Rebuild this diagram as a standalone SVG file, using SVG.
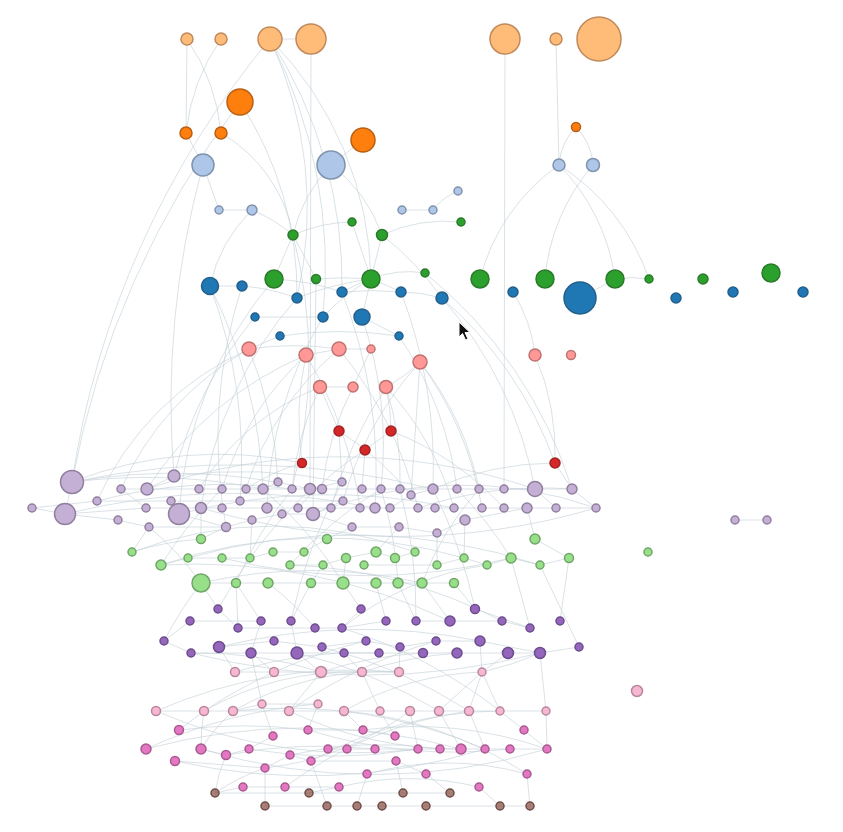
<svg xmlns="http://www.w3.org/2000/svg" width="843" height="832" viewBox="0 0 843 832">
<style>
.links path{fill:none;stroke:#c2cfd6;stroke-opacity:.6;stroke-width:1}
circle{stroke-width:1.5}
.c0 circle{fill:#ffbb78;stroke:#c08a5a}
.c1 circle{fill:#ff7f0e;stroke:#b85f12}
.c2 circle{fill:#aec7e8;stroke:#7f93ad}
.c3 circle{fill:#2ca02c;stroke:#2a7a2a}
.c4 circle{fill:#1f77b4;stroke:#235f8a}
.c5 circle{fill:#ff9896;stroke:#c07270}
.c6 circle{fill:#d62728;stroke:#a32224}
.c7 circle{fill:#c5b0d5;stroke:#917f9f}
.c8 circle{fill:#98df8a;stroke:#6fa666}
.c9 circle{fill:#9467bd;stroke:#6e4c8e}
.c10 circle{fill:#f7b6d2;stroke:#b8879c}
.c11 circle{fill:#e377c2;stroke:#a95990}
.c12 circle{fill:#8c564b;stroke:#6d4d47;fill-opacity:.75}
</style>
<rect width="843" height="832" fill="#ffffff"/>
<g class="links" id="links">
<path d="M187 39L186 133"/><path d="M187 39A200 200 0 0 1 221 133"/><path d="M221 39A200 200 0 0 0 186 133"/>
<path d="M270 39L311 39"/><path d="M270 39A900 900 0 0 0 72 482"/><path d="M240 102A900 900 0 0 0 72 482"/>
<path d="M186 133L203 165"/><path d="M221 133A150 150 0 0 1 293 235"/><path d="M240 102A350 350 0 0 1 297 298"/>
<path d="M203 165L219 210"/><path d="M203 165A900 900 0 0 0 174 476"/><path d="M219 210L252 210"/>
<path d="M252 210A150 150 0 0 0 210 286"/><path d="M252 210A150 150 0 0 1 293 235"/><path d="M293 235A150 150 0 0 1 352 222"/>
<path d="M382 235A150 150 0 0 1 461 222"/><path d="M402 210L433 210"/><path d="M433 210A60 60 0 0 1 458 191"/>
<path d="M311 39L310 489"/><path d="M270 39A400 400 0 0 1 297 298"/><path d="M270 39A500 500 0 0 1 323 317"/>
<path d="M270 39A450 450 0 0 1 342 292"/><path d="M270 39A350 350 0 0 1 371 279"/><path d="M331 165L363 140"/>
<path d="M331 165A150 150 0 0 0 293 235"/><path d="M331 165A150 150 0 0 1 382 235"/><path d="M505 39L504 489"/>
<path d="M556 39L559 165"/><path d="M576 127A60 60 0 0 0 559 165"/><path d="M576 127A60 60 0 0 1 593 165"/>
<path d="M559 165A200 200 0 0 0 480 279"/><path d="M559 165A200 200 0 0 1 615 279"/><path d="M559 165A220 220 0 0 1 649 279"/>
<path d="M593 165A200 200 0 0 0 545 279"/><path d="M580 298L615 279"/><path d="M615 279A100 100 0 0 1 649 279"/>
<path d="M513 292A150 150 0 0 1 535 355"/><path d="M535 355A250 250 0 0 1 555 463"/><path d="M442 298A400 400 0 0 1 555 463"/>
<path d="M382 235A300 300 0 0 1 442 298"/>
<path d="M210 286L242 286"/><path d="M242 286A200 200 0 0 1 297 298"/><path d="M255 317L323 317"/>
<path d="M274 279A250 250 0 0 1 342 292"/><path d="M371 279A300 300 0 0 0 316 279"/><path d="M371 279A100 100 0 0 1 425 273"/>
<path d="M371 279A200 200 0 0 0 342 292"/><path d="M371 279A200 200 0 0 0 323 317"/><path d="M371 279L362 317"/>
<path d="M371 279A300 300 0 0 0 297 298"/><path d="M371 279A300 300 0 0 1 401 292"/><path d="M342 292A300 300 0 0 1 401 292"/>
<path d="M401 292A150 150 0 0 1 442 298"/><path d="M362 317L399 336"/><path d="M280 336A400 400 0 0 1 399 336"/>
<path d="M249 349L280 336"/><path d="M249 349A300 300 0 0 1 339 349"/><path d="M306 355L339 349"/>
<path d="M339 349L371 349"/><path d="M371 349L353 387"/><path d="M320 387L353 387"/>
<path d="M386 387A150 150 0 0 0 420 362"/><path d="M386 387A200 200 0 0 1 391 431"/><path d="M391 431L365 450"/>
<path d="M339 431L342 482"/><path d="M365 450L362 489"/><path d="M302 463A400 400 0 0 0 72 482"/>
<path d="M555 463A300 300 0 0 0 433 489"/><path d="M210 286A500 500 0 0 1 240 501"/><path d="M210 286A500 500 0 0 1 263 489"/>
<path d="M249 349A300 300 0 0 0 121 489"/><path d="M249 349A300 300 0 0 0 97 501"/><path d="M249 349A400 400 0 0 1 278 482"/>
<path d="M306 355A300 300 0 0 0 222 489"/><path d="M306 355A350 350 0 0 0 147 489"/><path d="M339 349A300 300 0 0 0 246 489"/>
<path d="M320 387A300 300 0 0 0 292 489"/><path d="M320 387A250 250 0 0 0 199 489"/><path d="M353 387A300 300 0 0 0 322 489"/>
<path d="M386 387A300 300 0 0 1 400 489"/><path d="M420 362L411 495"/><path d="M420 362A300 300 0 0 1 479 489"/>
<path d="M420 362A350 350 0 0 1 482 508"/><path d="M399 336A350 350 0 0 1 457 489"/><path d="M362 317A400 400 0 0 1 381 489"/>
<path d="M323 317A400 400 0 0 0 267 508"/><path d="M297 298A400 400 0 0 0 201 508"/><path d="M342 292A500 500 0 0 1 375 508"/>
<path d="M401 292A500 500 0 0 1 433 489"/><path d="M442 298A400 400 0 0 1 535 489"/><path d="M425 273A450 450 0 0 1 572 489"/>
<path d="M316 279L313 514"/><path d="M274 279A400 400 0 0 0 179 514"/><path d="M242 286A500 500 0 0 0 226 527"/>
<path d="M255 317A400 400 0 0 0 174 476"/><path d="M293 235L274 279"/><path d="M293 235L316 279"/>
<path d="M352 222L371 279"/><path d="M382 235L371 279"/><path d="M293 235A500 500 0 0 1 292 489"/>
<path d="M339 349A400 400 0 0 1 418 508"/><path d="M306 355A400 400 0 0 1 360 508"/><path d="M386 387A300 300 0 0 1 454 508"/>
<path d="M420 362A350 350 0 0 0 343 501"/><path d="M391 431A300 300 0 0 1 504 508"/><path d="M365 450A300 300 0 0 0 298 508"/>
<path d="M339 431A300 300 0 0 1 411 495"/><path d="M302 463A200 200 0 0 0 246 489"/><path d="M320 387L339 431"/>
<path d="M306 355A300 300 0 0 0 302 463"/><path d="M386 387A400 400 0 0 0 331 508"/>
<path d="M121 489L147 489"/><path d="M147 489L199 489"/><path d="M199 489L222 489"/><path d="M222 489L246 489"/>
<path d="M246 489L263 489"/><path d="M263 489L292 489"/><path d="M292 489L310 489"/><path d="M310 489L322 489"/>
<path d="M322 489L362 489"/><path d="M362 489L381 489"/><path d="M381 489L400 489"/><path d="M400 489L433 489"/>
<path d="M433 489L457 489"/><path d="M457 489L479 489"/><path d="M479 489L504 489"/><path d="M504 489L535 489"/>
<path d="M535 489L572 489"/><path d="M72 482A800 800 0 0 1 433 489"/><path d="M72 482A600 600 0 0 1 310 489"/>
<path d="M72 482A600 600 0 0 1 263 489"/><path d="M147 489A600 600 0 0 1 535 489"/><path d="M174 476A500 500 0 0 1 342 482"/>
<path d="M97 501A500 500 0 0 1 292 489"/>
<path d="M32 508L65 514"/><path d="M65 514L146 508"/><path d="M146 508L201 508"/><path d="M201 508L222 508"/>
<path d="M222 508L267 508"/><path d="M267 508L298 508"/><path d="M298 508L331 508"/><path d="M331 508L360 508"/>
<path d="M360 508L375 508"/><path d="M375 508L390 508"/><path d="M390 508L418 508"/><path d="M418 508L435 508"/>
<path d="M435 508L454 508"/><path d="M454 508L482 508"/><path d="M482 508L504 508"/><path d="M504 508L527 508"/>
<path d="M527 508L556 508"/><path d="M556 508L596 508"/><path d="M201 508A700 700 0 0 0 596 508"/>
<path d="M65 514A700 700 0 0 1 375 508"/><path d="M179 514A600 600 0 0 1 454 508"/><path d="M313 514A400 400 0 0 1 596 508"/>
<path d="M32 508L97 501"/><path d="M97 501L171 501"/><path d="M171 501L240 501"/><path d="M240 501L343 501"/>
<path d="M72 482L65 514"/><path d="M65 514L118 520"/><path d="M118 520L149 527"/><path d="M149 527L226 527"/>
<path d="M226 527L252 520"/><path d="M252 520L282 514"/><path d="M282 514L313 514"/><path d="M313 514L343 501"/>
<path d="M352 527L399 527"/><path d="M399 527L437 533"/><path d="M437 533L465 520"/><path d="M465 520L527 508"/>
<path d="M179 514L171 501"/><path d="M179 514L226 527"/><path d="M174 476L147 489"/><path d="M278 482L263 489"/>
<path d="M342 482L310 489"/><path d="M411 495L390 508"/><path d="M411 495L433 489"/><path d="M735 520L767 520"/>
<path d="M535 489L556 508"/><path d="M572 489L596 508"/><path d="M146 508L121 489"/><path d="M352 527L313 514"/>
<path d="M555 463L572 489"/><path d="M418 508A400 400 0 0 1 572 489"/>
<path d="M201 539L201 508"/><path d="M201 539A300 300 0 0 0 132 552"/><path d="M132 552A400 400 0 0 1 415 552"/>
<path d="M161 565A500 500 0 0 1 464 558"/><path d="M161 565L188 558"/><path d="M188 558L222 558"/><path d="M222 558L250 558"/>
<path d="M250 558L273 552"/><path d="M273 552L304 552"/><path d="M304 552L327 539"/><path d="M290 565L323 565"/>
<path d="M323 565L346 558"/><path d="M346 558L376 552"/><path d="M376 552L395 558"/><path d="M395 558L415 552"/>
<path d="M364 565L437 565"/><path d="M437 565L464 558"/><path d="M464 558L487 565"/><path d="M487 565L511 558"/>
<path d="M511 558L540 565"/><path d="M540 565L569 558"/><path d="M535 539L569 558"/><path d="M188 558A600 600 0 0 1 540 565"/>
<path d="M222 558A600 600 0 0 0 511 558"/><path d="M201 583L236 583"/><path d="M236 583L268 583"/><path d="M268 583L311 583"/>
<path d="M311 583L343 583"/><path d="M343 583L376 583"/><path d="M376 583L398 583"/><path d="M398 583L422 583"/>
<path d="M422 583L454 583"/><path d="M201 583A500 500 0 0 1 422 583"/><path d="M132 552L149 527"/>
<path d="M327 539L352 527"/><path d="M376 552L399 527"/><path d="M437 565L437 533"/><path d="M535 539L527 508"/>
<path d="M201 539L226 527"/><path d="M464 558L465 520"/><path d="M201 583A300 300 0 0 0 149 527"/><path d="M250 558L252 520"/>
<path d="M346 558L343 583"/><path d="M323 565L311 583"/>
<path d="M263 489A400 400 0 0 1 343 583"/><path d="M292 489A400 400 0 0 0 236 583"/><path d="M381 489A400 400 0 0 1 398 583"/>
<path d="M457 489A400 400 0 0 1 511 558"/><path d="M479 489A300 300 0 0 0 422 583"/><path d="M222 489A400 400 0 0 0 161 565"/>
<path d="M381 489A400 400 0 0 0 290 565"/><path d="M433 489A500 500 0 0 1 475 609"/><path d="M310 489A500 500 0 0 0 218 609"/>
<path d="M400 489A500 500 0 0 1 416 621"/><path d="M342 482A500 500 0 0 0 291 621"/>
<path d="M201 583L218 609"/><path d="M201 583A400 400 0 0 0 164 641"/><path d="M236 583L261 621"/><path d="M236 583L238 628"/>
<path d="M268 583A300 300 0 0 1 315 628"/><path d="M311 583L291 621"/><path d="M343 583L361 609"/><path d="M376 583L386 621"/>
<path d="M398 583L416 621"/><path d="M422 583L450 621"/><path d="M454 583L475 609"/><path d="M511 558L530 628"/>
<path d="M569 558L560 621"/><path d="M487 565A300 300 0 0 0 342 628"/><path d="M161 565A600 600 0 0 1 450 621"/>
<path d="M290 565A500 500 0 0 1 502 621"/><path d="M540 565L579 647"/>
<path d="M190 621L261 621"/><path d="M164 641L191 653"/><path d="M191 653L251 653"/><path d="M251 653L297 653"/>
<path d="M297 653L344 653"/><path d="M344 653L379 653"/><path d="M379 653L423 653"/><path d="M423 653L457 653"/>
<path d="M457 653L508 653"/><path d="M508 653L540 653"/><path d="M540 653L579 647"/><path d="M219 647L274 641"/>
<path d="M274 641L322 647"/><path d="M322 647L366 641"/><path d="M366 641L400 647"/><path d="M400 647L436 641"/>
<path d="M436 641L480 641"/><path d="M480 641L540 653"/><path d="M218 609L238 628"/><path d="M238 628L315 628"/>
<path d="M315 628L342 628"/><path d="M342 628L386 621"/><path d="M361 609L342 628"/><path d="M416 621L450 621"/>
<path d="M450 621L502 621"/><path d="M502 621L530 628"/><path d="M475 609L530 628"/><path d="M291 621L297 653"/>
<path d="M251 653L261 621"/><path d="M191 653A700 700 0 0 0 540 653"/><path d="M219 647A600 600 0 0 1 480 641"/>
<path d="M164 641L190 621"/>
<path d="M219 647L235 672"/><path d="M251 653L274 672"/><path d="M297 653L321 672"/><path d="M344 653L362 672"/>
<path d="M400 647L399 672"/><path d="M480 641L482 672"/><path d="M251 653L262 704"/><path d="M540 653L546 711"/>
<path d="M540 653A300 300 0 0 1 482 672"/><path d="M508 653L482 672"/><path d="M423 653A400 400 0 0 0 321 672"/>
<path d="M457 653A400 400 0 0 0 362 672"/><path d="M191 653A400 400 0 0 1 321 672"/><path d="M379 653A400 400 0 0 0 235 672"/>
<path d="M235 672L274 672"/><path d="M274 672L321 672"/><path d="M321 672L362 672"/><path d="M362 672L399 672"/>
<path d="M156 711L204 711"/><path d="M204 711L233 711"/><path d="M233 711L289 711"/><path d="M289 711L344 711"/>
<path d="M344 711L380 711"/><path d="M380 711L410 711"/><path d="M410 711L439 711"/><path d="M439 711L469 711"/>
<path d="M469 711L500 711"/><path d="M500 711L546 711"/><path d="M262 704L318 704"/><path d="M156 711A500 500 0 0 1 399 672"/>
<path d="M482 672L469 711"/><path d="M482 672L439 711"/><path d="M482 672L500 711"/><path d="M482 672A300 300 0 0 0 344 711"/>
<path d="M399 672A300 300 0 0 0 233 711"/><path d="M204 711A300 300 0 0 1 362 672"/><path d="M233 711L262 704"/>
<path d="M321 672L289 711"/><path d="M362 672L380 711"/><path d="M233 711A200 200 0 0 0 201 749"/><path d="M204 711A200 200 0 0 0 201 749"/>
<path d="M179 730A500 500 0 0 1 308 730"/><path d="M146 749A500 500 0 0 1 318 704"/><path d="M201 749L226 755"/>
<path d="M226 755L249 749"/><path d="M249 749L273 736"/><path d="M175 761L265 768"/><path d="M226 755A500 500 0 0 1 375 749"/>
<path d="M265 768L290 755"/><path d="M290 755L311 761"/><path d="M308 730L363 730"/><path d="M363 730L395 736"/>
<path d="M328 749L347 749"/><path d="M347 749L375 749"/><path d="M375 749L418 749"/><path d="M418 749L440 749"/>
<path d="M440 749L461 749"/><path d="M461 749L485 749"/><path d="M485 749L510 749"/><path d="M510 749L547 749"/>
<path d="M524 730L547 749"/><path d="M311 761L396 761"/><path d="M396 761L426 774"/><path d="M527 774A300 300 0 0 0 367 774"/>
<path d="M285 787L339 787"/><path d="M339 787A300 300 0 0 1 479 787"/><path d="M243 787L285 787"/><path d="M215 793L243 787"/>
<path d="M215 793L309 793"/><path d="M215 793A150 150 0 0 1 226 755"/><path d="M215 793A200 200 0 0 1 265 768"/>
<path d="M265 806L327 806"/><path d="M309 793L403 793"/><path d="M403 793L450 793"/><path d="M327 806L357 806"/>
<path d="M357 806L382 806"/><path d="M382 806L426 806"/><path d="M426 806L500 806"/><path d="M500 806L530 806"/>
<path d="M318 704L308 730"/><path d="M344 711L363 730"/><path d="M380 711L395 736"/><path d="M410 711L418 749"/>
<path d="M439 711L461 749"/><path d="M500 711L524 730"/><path d="M546 711L547 749"/><path d="M469 711L485 749"/>
<path d="M262 704L273 736"/><path d="M204 711L179 730"/><path d="M339 787L309 793"/><path d="M396 761L403 793"/>
<path d="M426 774L450 793"/><path d="M479 787L500 806"/><path d="M527 774L530 806"/><path d="M367 774L357 806"/>
<path d="M311 761L327 806"/><path d="M265 768L265 806"/>
<path d="M146 749A600 600 0 0 1 461 749"/><path d="M175 761A600 600 0 0 0 485 749"/><path d="M201 749A600 600 0 0 0 547 749"/>
<path d="M363 730A400 400 0 0 1 547 749"/><path d="M308 730A500 500 0 0 0 510 749"/><path d="M290 755A400 400 0 0 1 440 749"/>
<path d="M249 749A500 500 0 0 0 418 749"/><path d="M156 711A500 500 0 0 0 418 749"/><path d="M233 711A500 500 0 0 1 485 749"/>
<path d="M289 711A400 400 0 0 0 461 749"/><path d="M410 711A300 300 0 0 1 265 768"/><path d="M500 711A400 400 0 0 0 311 761"/>
<path d="M344 711A400 400 0 0 1 527 774"/><path d="M469 711A400 400 0 0 0 285 787"/>
<path d="M297 653A500 500 0 0 1 439 711"/><path d="M322 647A500 500 0 0 1 469 711"/><path d="M366 641A500 500 0 0 0 204 711"/>
<path d="M436 641A500 500 0 0 0 289 711"/><path d="M342 628A500 500 0 0 1 500 711"/>
</g>
<g id="nodes">
<g id="n1" class="c0"><circle cx="187" cy="39" r="6"/></g>
<g id="n2" class="c0"><circle cx="221" cy="39" r="6"/></g>
<g id="n3" class="c0"><circle cx="270" cy="39" r="12"/></g>
<g id="n4" class="c0"><circle cx="311" cy="39" r="15"/></g>
<g id="n5" class="c0"><circle cx="505" cy="39" r="15"/></g>
<g id="n6" class="c0"><circle cx="556" cy="39" r="6"/></g>
<g id="n7" class="c0"><circle cx="599" cy="39" r="22"/></g>
<g id="n8" class="c1"><circle cx="240" cy="102" r="13"/></g>
<g id="n9" class="c1"><circle cx="186" cy="133" r="6"/></g>
<g id="n10" class="c1"><circle cx="221" cy="133" r="6"/></g>
<g id="n11" class="c1"><circle cx="363" cy="140" r="12"/></g>
<g id="n12" class="c1"><circle cx="576" cy="127" r="4.5"/></g>
<g id="n13" class="c2"><circle cx="203" cy="165" r="11"/></g>
<g id="n14" class="c2"><circle cx="331" cy="165" r="14"/></g>
<g id="n15" class="c2"><circle cx="559" cy="165" r="6"/></g>
<g id="n16" class="c2"><circle cx="593" cy="165" r="6.5"/></g>
<g id="n17" class="c2"><circle cx="219" cy="210" r="4"/></g>
<g id="n18" class="c2"><circle cx="252" cy="210" r="5"/></g>
<g id="n19" class="c2"><circle cx="402" cy="210" r="4"/></g>
<g id="n20" class="c2"><circle cx="433" cy="210" r="4"/></g>
<g id="n21" class="c2"><circle cx="458" cy="191" r="4"/></g>
<g id="n22" class="c3"><circle cx="293" cy="235" r="5"/></g>
<g id="n23" class="c3"><circle cx="352" cy="222" r="4"/></g>
<g id="n24" class="c3"><circle cx="382" cy="235" r="5.5"/></g>
<g id="n25" class="c3"><circle cx="461" cy="222" r="4"/></g>
<g id="n26" class="c3"><circle cx="274" cy="279" r="9"/></g>
<g id="n27" class="c3"><circle cx="316" cy="279" r="4.5"/></g>
<g id="n28" class="c3"><circle cx="371" cy="279" r="9"/></g>
<g id="n29" class="c3"><circle cx="425" cy="273" r="4"/></g>
<g id="n30" class="c3"><circle cx="480" cy="279" r="9"/></g>
<g id="n31" class="c3"><circle cx="545" cy="279" r="9"/></g>
<g id="n32" class="c3"><circle cx="615" cy="279" r="9"/></g>
<g id="n33" class="c3"><circle cx="649" cy="279" r="4"/></g>
<g id="n34" class="c3"><circle cx="703" cy="279" r="5"/></g>
<g id="n35" class="c3"><circle cx="771" cy="273" r="9"/></g>
<g id="n36" class="c4"><circle cx="210" cy="286" r="8.5"/></g>
<g id="n37" class="c4"><circle cx="242" cy="286" r="5"/></g>
<g id="n38" class="c4"><circle cx="255" cy="317" r="4"/></g>
<g id="n39" class="c4"><circle cx="280" cy="336" r="4"/></g>
<g id="n40" class="c4"><circle cx="297" cy="298" r="5"/></g>
<g id="n41" class="c4"><circle cx="342" cy="292" r="5"/></g>
<g id="n42" class="c4"><circle cx="323" cy="317" r="5"/></g>
<g id="n43" class="c4"><circle cx="362" cy="317" r="8"/></g>
<g id="n44" class="c4"><circle cx="401" cy="292" r="5"/></g>
<g id="n45" class="c4"><circle cx="442" cy="298" r="6"/></g>
<g id="n46" class="c4"><circle cx="399" cy="336" r="4"/></g>
<g id="n47" class="c4"><circle cx="513" cy="292" r="5"/></g>
<g id="n48" class="c4"><circle cx="580" cy="298" r="16"/></g>
<g id="n49" class="c4"><circle cx="676" cy="298" r="5"/></g>
<g id="n50" class="c4"><circle cx="733" cy="292" r="5"/></g>
<g id="n51" class="c4"><circle cx="803" cy="292" r="5"/></g>
<g id="n52" class="c5"><circle cx="249" cy="349" r="7"/></g>
<g id="n53" class="c5"><circle cx="306" cy="355" r="7"/></g>
<g id="n54" class="c5"><circle cx="339" cy="349" r="7"/></g>
<g id="n55" class="c5"><circle cx="371" cy="349" r="4"/></g>
<g id="n56" class="c5"><circle cx="420" cy="362" r="7"/></g>
<g id="n57" class="c5"><circle cx="535" cy="355" r="6"/></g>
<g id="n58" class="c5"><circle cx="571" cy="355" r="4.5"/></g>
<g id="n59" class="c5"><circle cx="320" cy="387" r="6.5"/></g>
<g id="n60" class="c5"><circle cx="353" cy="387" r="5"/></g>
<g id="n61" class="c5"><circle cx="386" cy="387" r="6.5"/></g>
<g id="n62" class="c6"><circle cx="339" cy="431" r="5"/></g>
<g id="n63" class="c6"><circle cx="391" cy="431" r="5"/></g>
<g id="n64" class="c6"><circle cx="365" cy="450" r="5"/></g>
<g id="n65" class="c6"><circle cx="302" cy="463" r="4.5"/></g>
<g id="n66" class="c6"><circle cx="555" cy="463" r="5"/></g>
<g id="n67" class="c7"><circle cx="72" cy="482" r="11.5"/></g>
<g id="n68" class="c7"><circle cx="65" cy="514" r="10.5"/></g>
<g id="n69" class="c7"><circle cx="32" cy="508" r="4"/></g>
<g id="n70" class="c7"><circle cx="97" cy="501" r="4"/></g>
<g id="n71" class="c7"><circle cx="121" cy="489" r="4"/></g>
<g id="n72" class="c7"><circle cx="147" cy="489" r="6"/></g>
<g id="n73" class="c7"><circle cx="174" cy="476" r="6"/></g>
<g id="n74" class="c7"><circle cx="118" cy="520" r="4"/></g>
<g id="n75" class="c7"><circle cx="149" cy="527" r="4"/></g>
<g id="n76" class="c7"><circle cx="146" cy="508" r="4"/></g>
<g id="n77" class="c7"><circle cx="171" cy="501" r="4"/></g>
<g id="n78" class="c7"><circle cx="179" cy="514" r="10.5"/></g>
<g id="n79" class="c7"><circle cx="199" cy="489" r="4"/></g>
<g id="n80" class="c7"><circle cx="201" cy="508" r="5.5"/></g>
<g id="n81" class="c7"><circle cx="222" cy="489" r="4"/></g>
<g id="n82" class="c7"><circle cx="222" cy="508" r="4"/></g>
<g id="n83" class="c7"><circle cx="226" cy="527" r="4.5"/></g>
<g id="n84" class="c7"><circle cx="246" cy="489" r="4"/></g>
<g id="n85" class="c7"><circle cx="240" cy="501" r="4"/></g>
<g id="n86" class="c7"><circle cx="263" cy="489" r="5"/></g>
<g id="n87" class="c7"><circle cx="252" cy="520" r="4"/></g>
<g id="n88" class="c7"><circle cx="267" cy="508" r="5"/></g>
<g id="n89" class="c7"><circle cx="278" cy="482" r="4"/></g>
<g id="n90" class="c7"><circle cx="282" cy="514" r="4"/></g>
<g id="n91" class="c7"><circle cx="292" cy="489" r="4"/></g>
<g id="n92" class="c7"><circle cx="310" cy="489" r="5.5"/></g>
<g id="n93" class="c7"><circle cx="322" cy="489" r="4.5"/></g>
<g id="n94" class="c7"><circle cx="342" cy="482" r="4"/></g>
<g id="n95" class="c7"><circle cx="362" cy="489" r="4"/></g>
<g id="n96" class="c7"><circle cx="381" cy="489" r="4"/></g>
<g id="n97" class="c7"><circle cx="400" cy="489" r="4"/></g>
<g id="n98" class="c7"><circle cx="411" cy="495" r="4"/></g>
<g id="n99" class="c7"><circle cx="433" cy="489" r="5"/></g>
<g id="n100" class="c7"><circle cx="457" cy="489" r="4"/></g>
<g id="n101" class="c7"><circle cx="479" cy="489" r="4"/></g>
<g id="n102" class="c7"><circle cx="504" cy="489" r="4"/></g>
<g id="n103" class="c7"><circle cx="535" cy="489" r="7.5"/></g>
<g id="n104" class="c7"><circle cx="572" cy="489" r="5"/></g>
<g id="n105" class="c7"><circle cx="298" cy="508" r="4"/></g>
<g id="n106" class="c7"><circle cx="313" cy="514" r="6.5"/></g>
<g id="n107" class="c7"><circle cx="331" cy="508" r="4"/></g>
<g id="n108" class="c7"><circle cx="343" cy="501" r="4"/></g>
<g id="n109" class="c7"><circle cx="360" cy="508" r="4"/></g>
<g id="n110" class="c7"><circle cx="375" cy="508" r="5"/></g>
<g id="n111" class="c7"><circle cx="390" cy="508" r="4"/></g>
<g id="n112" class="c7"><circle cx="418" cy="508" r="4"/></g>
<g id="n113" class="c7"><circle cx="435" cy="508" r="4"/></g>
<g id="n114" class="c7"><circle cx="454" cy="508" r="4"/></g>
<g id="n115" class="c7"><circle cx="482" cy="508" r="4"/></g>
<g id="n116" class="c7"><circle cx="504" cy="508" r="4"/></g>
<g id="n117" class="c7"><circle cx="527" cy="508" r="5"/></g>
<g id="n118" class="c7"><circle cx="556" cy="508" r="4"/></g>
<g id="n119" class="c7"><circle cx="596" cy="508" r="4"/></g>
<g id="n120" class="c7"><circle cx="352" cy="527" r="4"/></g>
<g id="n121" class="c7"><circle cx="399" cy="527" r="4"/></g>
<g id="n122" class="c7"><circle cx="437" cy="533" r="4"/></g>
<g id="n123" class="c7"><circle cx="465" cy="520" r="5"/></g>
<g id="n124" class="c7"><circle cx="735" cy="520" r="4"/></g>
<g id="n125" class="c7"><circle cx="767" cy="520" r="4"/></g>
<g id="n126" class="c8"><circle cx="201" cy="539" r="4.5"/></g>
<g id="n127" class="c8"><circle cx="132" cy="552" r="4"/></g>
<g id="n128" class="c8"><circle cx="161" cy="565" r="5"/></g>
<g id="n129" class="c8"><circle cx="188" cy="558" r="4"/></g>
<g id="n130" class="c8"><circle cx="222" cy="558" r="4"/></g>
<g id="n131" class="c8"><circle cx="250" cy="558" r="4"/></g>
<g id="n132" class="c8"><circle cx="273" cy="552" r="4"/></g>
<g id="n133" class="c8"><circle cx="201" cy="583" r="9"/></g>
<g id="n134" class="c8"><circle cx="236" cy="583" r="4.5"/></g>
<g id="n135" class="c8"><circle cx="268" cy="583" r="5"/></g>
<g id="n136" class="c8"><circle cx="327" cy="539" r="4.5"/></g>
<g id="n137" class="c8"><circle cx="304" cy="552" r="4"/></g>
<g id="n138" class="c8"><circle cx="290" cy="565" r="4"/></g>
<g id="n139" class="c8"><circle cx="323" cy="565" r="4"/></g>
<g id="n140" class="c8"><circle cx="346" cy="558" r="4.5"/></g>
<g id="n141" class="c8"><circle cx="376" cy="552" r="5"/></g>
<g id="n142" class="c8"><circle cx="395" cy="558" r="4.5"/></g>
<g id="n143" class="c8"><circle cx="415" cy="552" r="4"/></g>
<g id="n144" class="c8"><circle cx="364" cy="565" r="4"/></g>
<g id="n145" class="c8"><circle cx="437" cy="565" r="4"/></g>
<g id="n146" class="c8"><circle cx="464" cy="558" r="4"/></g>
<g id="n147" class="c8"><circle cx="487" cy="565" r="4"/></g>
<g id="n148" class="c8"><circle cx="511" cy="558" r="5"/></g>
<g id="n149" class="c8"><circle cx="540" cy="565" r="4"/></g>
<g id="n150" class="c8"><circle cx="535" cy="539" r="5"/></g>
<g id="n151" class="c8"><circle cx="569" cy="558" r="4.5"/></g>
<g id="n152" class="c8"><circle cx="648" cy="552" r="4"/></g>
<g id="n153" class="c8"><circle cx="311" cy="583" r="4.5"/></g>
<g id="n154" class="c8"><circle cx="343" cy="583" r="6"/></g>
<g id="n155" class="c8"><circle cx="376" cy="583" r="5"/></g>
<g id="n156" class="c8"><circle cx="398" cy="583" r="5"/></g>
<g id="n157" class="c8"><circle cx="422" cy="583" r="5"/></g>
<g id="n158" class="c8"><circle cx="454" cy="583" r="4.5"/></g>
<g id="n159" class="c9"><circle cx="218" cy="609" r="4"/></g>
<g id="n160" class="c9"><circle cx="190" cy="621" r="4"/></g>
<g id="n161" class="c9"><circle cx="261" cy="621" r="4"/></g>
<g id="n162" class="c9"><circle cx="361" cy="609" r="4"/></g>
<g id="n163" class="c9"><circle cx="475" cy="609" r="4.5"/></g>
<g id="n164" class="c9"><circle cx="291" cy="621" r="4"/></g>
<g id="n165" class="c9"><circle cx="386" cy="621" r="4"/></g>
<g id="n166" class="c9"><circle cx="416" cy="621" r="4"/></g>
<g id="n167" class="c9"><circle cx="450" cy="621" r="5"/></g>
<g id="n168" class="c9"><circle cx="502" cy="621" r="4"/></g>
<g id="n169" class="c9"><circle cx="560" cy="621" r="4"/></g>
<g id="n170" class="c9"><circle cx="238" cy="628" r="4"/></g>
<g id="n171" class="c9"><circle cx="164" cy="641" r="4"/></g>
<g id="n172" class="c9"><circle cx="219" cy="647" r="5.5"/></g>
<g id="n173" class="c9"><circle cx="191" cy="653" r="4"/></g>
<g id="n174" class="c9"><circle cx="251" cy="653" r="5"/></g>
<g id="n175" class="c9"><circle cx="274" cy="641" r="4"/></g>
<g id="n176" class="c9"><circle cx="315" cy="628" r="4"/></g>
<g id="n177" class="c9"><circle cx="342" cy="628" r="4"/></g>
<g id="n178" class="c9"><circle cx="366" cy="641" r="4"/></g>
<g id="n179" class="c9"><circle cx="322" cy="647" r="4"/></g>
<g id="n180" class="c9"><circle cx="297" cy="653" r="6"/></g>
<g id="n181" class="c9"><circle cx="344" cy="653" r="4"/></g>
<g id="n182" class="c9"><circle cx="379" cy="653" r="4"/></g>
<g id="n183" class="c9"><circle cx="400" cy="647" r="4"/></g>
<g id="n184" class="c9"><circle cx="423" cy="653" r="4.5"/></g>
<g id="n185" class="c9"><circle cx="436" cy="641" r="4"/></g>
<g id="n186" class="c9"><circle cx="457" cy="653" r="5"/></g>
<g id="n187" class="c9"><circle cx="480" cy="641" r="5"/></g>
<g id="n188" class="c9"><circle cx="508" cy="653" r="5.5"/></g>
<g id="n189" class="c9"><circle cx="540" cy="653" r="5.5"/></g>
<g id="n190" class="c9"><circle cx="530" cy="628" r="4"/></g>
<g id="n191" class="c9"><circle cx="579" cy="647" r="4"/></g>
<g id="n192" class="c10"><circle cx="235" cy="672" r="4.5"/></g>
<g id="n193" class="c10"><circle cx="274" cy="672" r="4.5"/></g>
<g id="n194" class="c10"><circle cx="321" cy="672" r="5.5"/></g>
<g id="n195" class="c10"><circle cx="362" cy="672" r="4.5"/></g>
<g id="n196" class="c10"><circle cx="399" cy="672" r="4.5"/></g>
<g id="n197" class="c10"><circle cx="482" cy="672" r="4"/></g>
<g id="n198" class="c10"><circle cx="156" cy="711" r="4.5"/></g>
<g id="n199" class="c10"><circle cx="204" cy="711" r="4.5"/></g>
<g id="n200" class="c10"><circle cx="233" cy="711" r="4.5"/></g>
<g id="n201" class="c10"><circle cx="262" cy="704" r="4"/></g>
<g id="n202" class="c10"><circle cx="289" cy="711" r="4.5"/></g>
<g id="n203" class="c10"><circle cx="318" cy="704" r="4"/></g>
<g id="n204" class="c10"><circle cx="344" cy="711" r="4.5"/></g>
<g id="n205" class="c10"><circle cx="380" cy="711" r="4"/></g>
<g id="n206" class="c10"><circle cx="410" cy="711" r="4.5"/></g>
<g id="n207" class="c10"><circle cx="439" cy="711" r="4.5"/></g>
<g id="n208" class="c10"><circle cx="469" cy="711" r="4.5"/></g>
<g id="n209" class="c10"><circle cx="500" cy="711" r="4"/></g>
<g id="n210" class="c10"><circle cx="546" cy="711" r="4"/></g>
<g id="n211" class="c10"><circle cx="637" cy="691" r="5.5"/></g>
<g id="n212" class="c11"><circle cx="179" cy="730" r="4.5"/></g>
<g id="n213" class="c11"><circle cx="146" cy="749" r="5"/></g>
<g id="n214" class="c11"><circle cx="201" cy="749" r="5"/></g>
<g id="n215" class="c11"><circle cx="175" cy="761" r="4.5"/></g>
<g id="n216" class="c11"><circle cx="226" cy="755" r="4.5"/></g>
<g id="n217" class="c11"><circle cx="249" cy="749" r="4"/></g>
<g id="n218" class="c11"><circle cx="273" cy="736" r="4"/></g>
<g id="n219" class="c11"><circle cx="265" cy="768" r="4"/></g>
<g id="n220" class="c11"><circle cx="243" cy="787" r="4"/></g>
<g id="n221" class="c11"><circle cx="308" cy="730" r="4"/></g>
<g id="n222" class="c11"><circle cx="363" cy="730" r="4"/></g>
<g id="n223" class="c11"><circle cx="395" cy="736" r="4"/></g>
<g id="n224" class="c11"><circle cx="290" cy="755" r="4"/></g>
<g id="n225" class="c11"><circle cx="311" cy="761" r="4"/></g>
<g id="n226" class="c11"><circle cx="328" cy="749" r="4"/></g>
<g id="n227" class="c11"><circle cx="347" cy="749" r="4"/></g>
<g id="n228" class="c11"><circle cx="375" cy="749" r="4"/></g>
<g id="n229" class="c11"><circle cx="418" cy="749" r="4"/></g>
<g id="n230" class="c11"><circle cx="440" cy="749" r="4"/></g>
<g id="n231" class="c11"><circle cx="461" cy="749" r="5"/></g>
<g id="n232" class="c11"><circle cx="485" cy="749" r="4"/></g>
<g id="n233" class="c11"><circle cx="510" cy="749" r="4"/></g>
<g id="n234" class="c11"><circle cx="547" cy="749" r="4"/></g>
<g id="n235" class="c11"><circle cx="524" cy="730" r="4"/></g>
<g id="n236" class="c11"><circle cx="396" cy="761" r="4"/></g>
<g id="n237" class="c11"><circle cx="367" cy="774" r="4"/></g>
<g id="n238" class="c11"><circle cx="426" cy="774" r="4"/></g>
<g id="n239" class="c11"><circle cx="527" cy="774" r="4"/></g>
<g id="n240" class="c11"><circle cx="285" cy="787" r="4"/></g>
<g id="n241" class="c11"><circle cx="339" cy="787" r="4"/></g>
<g id="n242" class="c11"><circle cx="479" cy="787" r="4"/></g>
<g id="n243" class="c12"><circle cx="215" cy="793" r="4"/></g>
<g id="n244" class="c12"><circle cx="265" cy="806" r="4"/></g>
<g id="n245" class="c12"><circle cx="309" cy="793" r="4"/></g>
<g id="n246" class="c12"><circle cx="403" cy="793" r="4"/></g>
<g id="n247" class="c12"><circle cx="450" cy="793" r="4"/></g>
<g id="n248" class="c12"><circle cx="327" cy="806" r="4"/></g>
<g id="n249" class="c12"><circle cx="357" cy="806" r="4"/></g>
<g id="n250" class="c12"><circle cx="382" cy="806" r="4"/></g>
<g id="n251" class="c12"><circle cx="426" cy="806" r="4"/></g>
<g id="n252" class="c12"><circle cx="500" cy="806" r="4"/></g>
<g id="n253" class="c12"><circle cx="530" cy="806" r="4"/></g>
</g>
<path id="cursor" d="M459 322L459 337L462.5 333.5L465.5 340L468 339L465 332.5L470 332.5Z" fill="#111" stroke="#fff" stroke-width="1"/>
</svg>
